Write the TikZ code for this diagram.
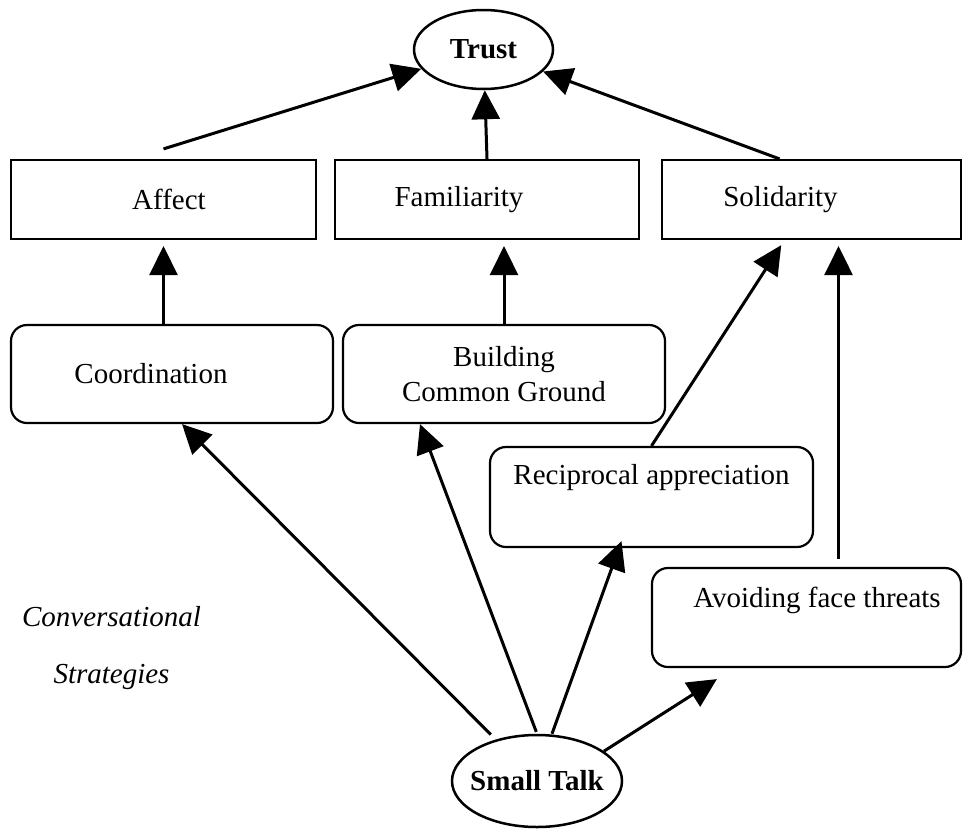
\documentclass[tikz,border=0pt]{standalone}
\usepackage{fontspec}
\setmainfont{Liberation Serif}
\usetikzlibrary{arrows.meta,shapes.geometric}
\begin{document}
\begin{tikzpicture}[x=1pt,y=-1pt,
    plainbox/.style={draw,line width=2.2pt,inner sep=0pt,font=\fontsize{29}{35}\selectfont},
    roundbox/.style={plainbox,rounded corners=16pt},
    nudge/.style={execute at begin node=\hspace*{#1}},
    oval/.style={draw,ellipse,line width=2.5pt,inner sep=0pt,font=\fontsize{29}{35}\selectfont\bfseries},
    link/.style={-{Triangle[length=29pt,width=28pt]},line width=3pt}]
    \useasboundingbox (0,0) rectangle (963,830);
    % Draw the two ovals
    \node[oval,minimum width=139pt,minimum height=79pt] (trust) at (483.5,49.5) {\makebox[0pt]{Trust}};
    \node[oval,minimum width=170pt,minimum height=92pt] (small) at (537,781) {\makebox[0pt]{Small Talk}};
    % Draw the boxes
    \node[plainbox,nudge=11pt,minimum width=305pt,minimum height=79pt] (affect) at (163.5,199.5) {Affect};
    \node[plainbox,nudge=-56pt,minimum width=304pt,minimum height=79pt] (famil) at (487,199.5) {Familiarity};
    \node[plainbox,nudge=-62pt,minimum width=299pt,minimum height=79pt] (solid) at (811.5,199.5) {Solidarity};

    \node[roundbox,nudge=-42pt,minimum width=322pt,minimum height=98pt] (coord) at (172,374) {Coordination};
    \node[roundbox,minimum width=322pt,minimum height=98pt,align=center] (build) at (504,374) {Building\\Common Ground};
    \node[roundbox,minimum width=323pt,minimum height=100pt,text height=20pt,text depth=46pt] (recip) at (651.5,497) {Reciprocal appreciation};
    \node[roundbox,nudge=21pt,minimum width=309pt,minimum height=99pt,text height=20pt,text depth=41pt] (avoid) at (806.5,617.5) {Avoiding face threats};

    \node[font=\fontsize{29}{57}\selectfont\itshape,align=center] (strat) at (111.5,648.5) {Conversational\\Strategies};

    % Draw arrows up to Trust
    \draw[link] ([yshift=10pt]affect.north) -- (trust);
    \draw[link] (famil.north) -- (trust);
    \draw[link] ([xshift=-32pt]solid.north) -- (trust);

    % Draw arrows from the strategies
    \coordinate (solidleft) at ([xshift=-27pt]solid.south);
    \coordinate (solidright) at ([xshift=27pt]solid.south);
    \draw[link,shorten >=6pt] (affect.south |- coord.north) -- (affect.south);
    \draw[link,shorten >=6pt] (build.north) -- (build.north |- famil.south);
    \draw[link,shorten >=6pt] (recip.north) -- (solidleft);
    \draw[link,shorten <=8pt,shorten >=6pt] (solidright |- avoid.north) -- (solidright);

    % Draw arrows out of Small Talk
    \draw[link,shorten <=7pt] (small) -- ([xshift=10pt]coord.south);
    \draw[link,shorten <=2pt] (small.north) -- ([xshift=-84pt]build.south);
    \draw[link] ([xshift=15pt]small.north) -- ([xshift=-30pt,yshift=7pt]recip.south);
    \draw[link] (small.24) -- ([xshift=66pt,yshift=-11pt]avoid.south west);
\end{tikzpicture}
\end{document}
